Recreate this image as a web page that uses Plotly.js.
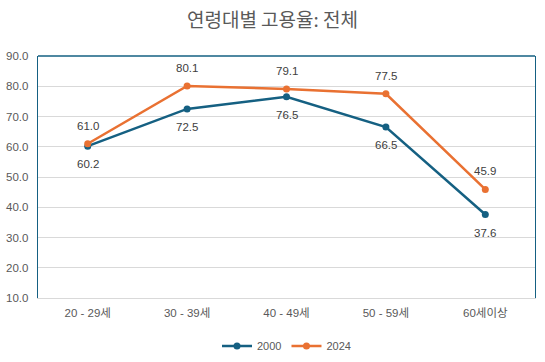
<!DOCTYPE html>
<html>
<head>
<meta charset="utf-8">
<script src="https://cdn.plot.ly/plotly-3.0.1.min.js"></script>
<style>html,body{margin:0;padding:0;background:#fff;}#chart{width:545px;height:362px;}</style>
</head>
<body>
<div id="chart"></div>
<script>
const categories = ['20 - 29세', '30 - 39세', '40 - 49세', '50 - 59세', '60세이상'];
const values2000 = [60.2, 72.5, 76.5, 66.5, 37.6];
const values2024 = [61.0, 80.1, 79.1, 77.5, 45.9];
const seriesNames = ['2000', '2024'];
const yTicks = [10, 20, 30, 40, 50, 60, 70, 80, 90];

const font = "'Liberation Sans', Arial, sans-serif";
const traces = [
  {
    x: categories, y: values2000, name: seriesNames[0], type: 'scatter', mode: 'lines+markers',
    line: {color: '#156082', width: 2.5}, marker: {color: '#156082', size: 7}, cliponaxis: false
  },
  {
    x: categories, y: values2024, name: seriesNames[1], type: 'scatter', mode: 'lines+markers',
    line: {color: '#E97132', width: 2.5}, marker: {color: '#E97132', size: 7}, cliponaxis: false
  }
];
const annotations = [];
categories.forEach((c, i) => {
  annotations.push({x: c, y: values2000[i], text: values2000[i].toFixed(1), showarrow: false,
    yshift: -18, font: {family: font, size: 11.5, color: '#404040'}});
  annotations.push({x: c, y: values2024[i], text: values2024[i].toFixed(1), showarrow: false,
    yshift: 18, font: {family: font, size: 11.5, color: '#404040'}});
});
const layout = {
  width: 545, height: 362,
  margin: {l: 38, r: 10, t: 56, b: 64},
  paper_bgcolor: '#fff', plot_bgcolor: '#fff',
  title: {text: '연령대별 고용율: 전체', x: 0.5, xanchor: 'center', y: 0.945, yanchor: 'middle',
    font: {family: "'Noto Sans CJK KR', sans-serif", size: 19, color: '#595959'}},
  xaxis: {type: 'category', range: [-0.5, 4.5], showgrid: false, showline: true, linecolor: '#d9d9d9', linewidth: 1,
    ticks: '', tickfont: {family: "'Liberation Sans', 'Noto Sans CJK KR', sans-serif", size: 11.5, color: '#595959'},
    ticklabelstandoff: 4},
  yaxis: {range: [10, 90], tickvals: yTicks, tickformat: '.1f', showgrid: true, gridcolor: '#d9d9d9',
    showline: true, mirror: true, linecolor: '#156082', linewidth: 1.3, zeroline: false, ticks: '',
    tickfont: {family: font, size: 11.5, color: '#595959'}, ticklabelstandoff: 6},
  shapes: [{type: 'line', xref: 'paper', yref: 'paper', x0: 0, x1: 1, y0: 1, y1: 1,
    line: {color: '#156082', width: 1.3}}],
  annotations: annotations,
  showlegend: true,
  legend: {orientation: 'h', x: 0.5, xanchor: 'center', yref: 'container', y: 0.044, yanchor: 'middle', itemwidth: 30,
    font: {family: font, size: 11, color: '#595959'}}
};
Plotly.newPlot('chart', traces, layout, {displayModeBar: false, staticPlot: true});
</script>
</body>
</html>
